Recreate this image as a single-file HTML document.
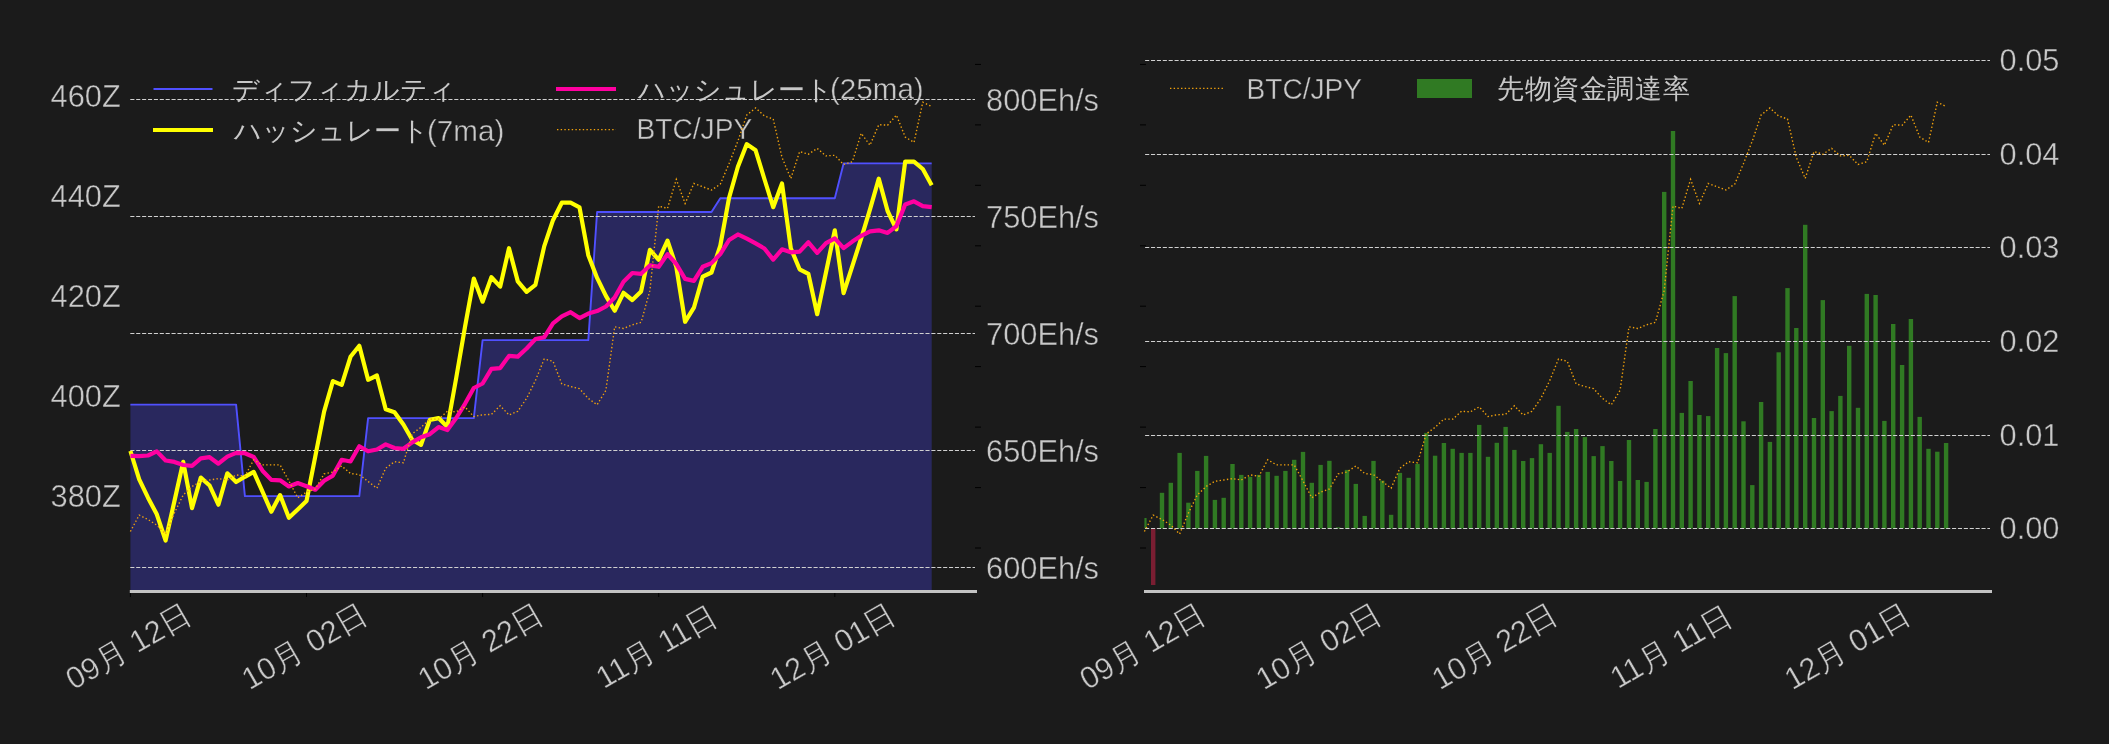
<!DOCTYPE html>
<html><head><meta charset="utf-8"><title>chart</title>
<style>
html,body{margin:0;padding:0;background:#1b1b1b;width:2109px;height:744px;overflow:hidden;}
svg{display:block;will-change:transform;}
text{font-family:"Liberation Sans", sans-serif;fill:#c8c8c8;stroke:#1b1b1b;stroke-width:0.4px;paint-order:normal;}
text[stroke=none]{stroke:none;}
</style></head><body>
<svg width="2109" height="744" viewBox="0 0 2109 744">
<rect width="2109" height="744" fill="#1b1b1b"/>

<polygon points="130.4,404.6 139.2,404.6 148.0,404.6 156.8,404.6 165.6,404.6 174.4,404.6 183.2,404.6 192.0,404.6 200.8,404.6 209.6,404.6 218.4,404.6 227.3,404.6 236.1,404.6 244.9,496.1 253.7,496.1 262.5,496.1 271.3,496.1 280.1,496.1 288.9,496.1 297.7,496.1 306.5,496.1 315.3,496.1 324.1,496.1 332.9,496.1 341.7,496.1 350.5,496.1 359.3,496.1 368.1,418.1 376.9,418.1 385.7,418.1 394.5,418.1 403.4,418.1 412.2,418.1 421.0,418.1 429.8,418.1 438.6,418.1 447.4,418.1 456.2,418.1 465.0,418.1 473.8,418.1 482.6,340.1 491.4,340.1 500.2,340.1 509.0,340.1 517.8,340.1 526.6,340.1 535.4,340.1 544.2,340.1 553.0,340.1 561.8,340.1 570.6,340.1 579.5,340.1 588.3,340.1 597.1,212.0 605.9,212.0 614.7,212.0 623.5,212.0 632.3,212.0 641.1,212.0 649.9,212.0 658.7,212.0 667.5,212.0 676.3,212.0 685.1,212.0 693.9,212.0 702.7,212.0 711.5,212.0 720.3,198.2 729.1,198.2 737.9,198.2 746.8,198.2 755.6,198.2 764.4,198.2 773.2,198.2 782.0,198.2 790.8,198.2 799.6,198.2 808.4,198.2 817.2,198.2 826.0,198.2 834.8,198.2 843.6,163.4 852.4,163.4 861.2,163.4 870.0,163.4 878.8,163.4 887.6,163.4 896.4,163.4 905.2,163.4 914.0,163.4 922.8,163.4 931.7,163.4 931.7,591 130.4,591" fill="#29285e"/>
<polyline points="130.4,404.6 139.2,404.6 148.0,404.6 156.8,404.6 165.6,404.6 174.4,404.6 183.2,404.6 192.0,404.6 200.8,404.6 209.6,404.6 218.4,404.6 227.3,404.6 236.1,404.6 244.9,496.1 253.7,496.1 262.5,496.1 271.3,496.1 280.1,496.1 288.9,496.1 297.7,496.1 306.5,496.1 315.3,496.1 324.1,496.1 332.9,496.1 341.7,496.1 350.5,496.1 359.3,496.1 368.1,418.1 376.9,418.1 385.7,418.1 394.5,418.1 403.4,418.1 412.2,418.1 421.0,418.1 429.8,418.1 438.6,418.1 447.4,418.1 456.2,418.1 465.0,418.1 473.8,418.1 482.6,340.1 491.4,340.1 500.2,340.1 509.0,340.1 517.8,340.1 526.6,340.1 535.4,340.1 544.2,340.1 553.0,340.1 561.8,340.1 570.6,340.1 579.5,340.1 588.3,340.1 597.1,212.0 605.9,212.0 614.7,212.0 623.5,212.0 632.3,212.0 641.1,212.0 649.9,212.0 658.7,212.0 667.5,212.0 676.3,212.0 685.1,212.0 693.9,212.0 702.7,212.0 711.5,212.0 720.3,198.2 729.1,198.2 737.9,198.2 746.8,198.2 755.6,198.2 764.4,198.2 773.2,198.2 782.0,198.2 790.8,198.2 799.6,198.2 808.4,198.2 817.2,198.2 826.0,198.2 834.8,198.2 843.6,163.4 852.4,163.4 861.2,163.4 870.0,163.4 878.8,163.4 887.6,163.4 896.4,163.4 905.2,163.4 914.0,163.4 922.8,163.4 931.7,163.4" fill="none" stroke="#5050ff" stroke-width="1.9" stroke-linejoin="round"/>
<line x1="153.5" y1="89" x2="212.5" y2="89" stroke="#5050ff" stroke-width="1.9"/>
<text x="232" y="98.8" font-size="26.9" stroke="none">ディフィカルティ</text>
<line x1="153" y1="130" x2="213" y2="130" stroke="#ffff00" stroke-width="4.2"/>
<text x="234" y="139.5" font-size="26.9" stroke="none">ハッシュレート</text>
<text transform="translate(427.0,141.3) scale(1,1.02)" font-size="29.6">(7ma)</text>
<line x1="556" y1="89" x2="616" y2="89" stroke="#ff00a0" stroke-width="4.2"/>
<text x="637.5" y="98.8" font-size="26.9" stroke="none">ハッシュレート</text>
<text transform="translate(830.0,99.3) scale(1,1.02)" font-size="29.6">(25ma)</text>
<line x1="557" y1="129.6" x2="616" y2="129.6" stroke="#f2a20c" stroke-width="1.39" stroke-dasharray="1.39 2.29"/>
<text transform="translate(636.6,139.3) scale(1,1.07)" font-size="28.1">BTC/JPY</text>
<line x1="130.3" y1="99.5" x2="975" y2="99.5" stroke="#d0d0d0" stroke-width="1.11" stroke-dasharray="4.11 1.78"/>
<line x1="130.3" y1="216.5" x2="975" y2="216.5" stroke="#d0d0d0" stroke-width="1.11" stroke-dasharray="4.11 1.78"/>
<line x1="130.3" y1="333.5" x2="975" y2="333.5" stroke="#d0d0d0" stroke-width="1.11" stroke-dasharray="4.11 1.78"/>
<line x1="130.3" y1="450.5" x2="975" y2="450.5" stroke="#d0d0d0" stroke-width="1.11" stroke-dasharray="4.11 1.78"/>
<line x1="130.3" y1="567.5" x2="975" y2="567.5" stroke="#d0d0d0" stroke-width="1.11" stroke-dasharray="4.11 1.78"/>
<polyline points="130.4,451.0 139.2,479.4 148.0,497.7 156.8,514.3 165.6,540.5 174.4,501.2 183.2,461.9 192.0,508.2 200.8,477.6 209.6,485.5 218.4,504.7 227.3,473.3 236.1,482.0 244.9,476.8 253.7,471.9 262.5,491.6 271.3,511.7 280.1,495.1 288.9,517.8 297.7,509.5 306.5,501.1 315.3,456.4 324.1,411.7 332.9,381.1 341.7,384.9 350.5,356.8 359.3,345.8 368.1,379.8 376.9,375.5 385.7,409.2 394.5,412.2 403.4,424.5 412.2,439.8 421.0,444.9 429.8,419.9 438.6,418.1 447.4,427.0 456.2,378.0 465.0,326.9 473.8,278.6 482.6,301.7 491.4,277.2 500.2,286.6 509.0,248.2 517.8,281.4 526.6,291.9 535.4,284.9 544.2,246.4 553.0,220.2 561.8,202.7 570.6,202.7 579.5,207.3 588.3,255.2 597.1,277.9 605.9,295.9 614.7,310.8 623.5,292.8 632.3,300.0 641.1,291.4 649.9,249.9 658.7,259.8 667.5,240.6 676.3,266.8 685.1,321.8 693.9,307.7 702.7,276.7 711.5,272.5 720.3,245.7 729.1,197.7 737.9,166.7 746.8,144.1 755.6,150.3 764.4,179.0 773.2,207.2 782.0,183.5 790.8,248.3 799.6,269.3 808.4,273.9 817.2,314.2 826.0,272.3 834.8,230.3 843.6,293.2 852.4,265.8 861.2,238.4 870.0,209.4 878.8,178.7 887.6,211.0 896.4,229.4 905.2,161.6 914.0,161.6 922.8,169.0 931.7,185.2" fill="none" stroke="#ffff00" stroke-width="4.2" stroke-linejoin="round" stroke-linecap="butt"/>
<polyline points="130.4,455.8 139.2,456.2 148.0,455.5 156.8,451.4 165.6,460.5 174.4,461.9 183.2,465.0 192.0,465.8 200.8,458.4 209.6,457.2 218.4,463.7 227.3,456.7 236.1,452.8 244.9,453.2 253.7,457.0 262.5,470.7 271.3,479.9 280.1,480.3 288.9,486.5 297.7,483.0 306.5,486.2 315.3,489.7 324.1,480.7 332.9,475.6 341.7,459.8 350.5,461.5 359.3,446.2 368.1,451.3 376.9,449.5 385.7,444.4 394.5,448.0 403.4,448.8 412.2,442.4 421.0,437.3 429.8,434.2 438.6,427.1 447.4,430.0 456.2,418.0 465.0,403.8 473.8,388.0 482.6,383.5 491.4,368.8 500.2,368.1 509.0,355.9 517.8,356.6 526.6,348.5 535.4,339.1 544.2,337.3 553.0,323.4 561.8,316.4 570.6,312.2 579.5,318.1 588.3,313.6 597.1,311.1 605.9,306.5 614.7,297.5 623.5,281.8 632.3,273.0 641.1,273.8 649.9,265.4 658.7,266.8 667.5,254.1 676.3,264.0 685.1,278.9 693.9,280.9 702.7,266.8 711.5,263.1 720.3,254.1 729.1,240.0 737.9,234.4 746.8,238.6 755.6,243.4 764.4,248.5 773.2,259.6 782.0,249.3 790.8,252.3 799.6,251.6 808.4,242.3 817.2,252.9 826.0,243.2 834.8,238.4 843.6,248.1 852.4,241.6 861.2,235.8 870.0,231.3 878.8,230.3 887.6,232.9 896.4,226.1 905.2,204.5 914.0,201.3 922.8,206.1 931.7,207.1" fill="none" stroke="#ff00a0" stroke-width="4.2" stroke-linejoin="round" stroke-linecap="butt"/>
<polyline points="130.4,531.5 139.2,515.1 148.0,519.5 156.8,525.1 165.6,534.0 174.4,512.9 183.2,495.0 192.0,486.5 200.8,481.3 209.6,480.0 218.4,478.6 227.3,480.0 236.1,474.9 244.9,476.2 253.7,459.8 262.5,464.9 271.3,464.9 280.1,464.9 288.9,480.9 297.7,497.8 306.5,492.2 315.3,489.0 324.1,473.9 332.9,472.0 341.7,466.0 350.5,473.5 359.3,474.6 368.1,481.5 376.9,488.2 385.7,468.2 394.5,461.7 403.4,462.8 412.2,433.8 421.0,427.3 429.8,419.1 438.6,419.1 447.4,411.2 456.2,411.8 465.0,406.9 473.8,416.6 482.6,414.8 491.4,414.4 500.2,405.8 509.0,415.0 517.8,411.3 526.6,398.4 535.4,380.6 544.2,359.0 553.0,361.3 561.8,383.9 570.6,386.5 579.5,388.7 588.3,398.4 597.1,404.8 605.9,390.3 614.7,326.8 623.5,328.5 632.3,324.8 641.1,322.4 649.9,290.6 658.7,206.1 667.5,208.4 676.3,179.4 685.1,203.5 693.9,183.5 702.7,186.8 711.5,190.0 720.3,184.2 729.1,163.5 737.9,141.0 746.8,115.0 755.6,108.0 764.4,116.0 773.2,119.0 782.0,157.4 790.8,178.5 799.6,151.6 808.4,154.2 817.2,148.4 826.0,155.9 834.8,155.3 843.6,164.5 852.4,161.7 861.2,133.3 870.0,145.2 878.8,124.7 887.6,125.2 896.4,115.1 905.2,137.0 914.0,142.4 922.8,102.2 931.7,106.5" fill="none" stroke="#f2a20c" stroke-width="1.39" stroke-dasharray="1.39 2.29"/>
<rect x="129.8" y="590" width="847.2" height="3" fill="#c3c3c3"/>
<rect x="129.9" y="593" width="1" height="4" fill="#000"/>
<rect x="306.0" y="593" width="1" height="4" fill="#000"/>
<rect x="482.1" y="593" width="1" height="4" fill="#000"/>
<rect x="658.2" y="593" width="1" height="4" fill="#000"/>
<rect x="834.3" y="593" width="1" height="4" fill="#000"/>
<rect x="975" y="63.9" width="6" height="1" fill="#000"/>
<rect x="975" y="124.4" width="6" height="1" fill="#000"/>
<rect x="975" y="184.8" width="6" height="1" fill="#000"/>
<rect x="975" y="245.3" width="6" height="1" fill="#000"/>
<rect x="975" y="305.7" width="6" height="1" fill="#000"/>
<rect x="975" y="366.1" width="6" height="1" fill="#000"/>
<rect x="975" y="426.6" width="6" height="1" fill="#000"/>
<rect x="975" y="487.1" width="6" height="1" fill="#000"/>
<rect x="975" y="547.5" width="6" height="1" fill="#000"/>
<text class="t" x="120.8" y="96.4" font-size="30.8" text-anchor="end" dominant-baseline="central">460Z</text>
<text class="t" x="120.8" y="196.4" font-size="30.8" text-anchor="end" dominant-baseline="central">440Z</text>
<text class="t" x="120.8" y="296.4" font-size="30.8" text-anchor="end" dominant-baseline="central">420Z</text>
<text class="t" x="120.8" y="396.4" font-size="30.8" text-anchor="end" dominant-baseline="central">400Z</text>
<text class="t" x="120.8" y="496.4" font-size="30.8" text-anchor="end" dominant-baseline="central">380Z</text>
<text class="t" x="986" y="100.8" font-size="30.8" dominant-baseline="central">800Eh/s</text>
<text class="t" x="986" y="217.8" font-size="30.8" dominant-baseline="central">750Eh/s</text>
<text class="t" x="986" y="334.8" font-size="30.8" dominant-baseline="central">700Eh/s</text>
<text class="t" x="986" y="451.8" font-size="30.8" dominant-baseline="central">650Eh/s</text>
<text class="t" x="986" y="568.8" font-size="30.8" dominant-baseline="central">600Eh/s</text>
<text class="t" x="0" y="0" font-size="30.8" text-anchor="middle" dominant-baseline="central" transform="translate(128.4,646.6) rotate(-30)">09月 12日</text>
<text class="t" x="0" y="0" font-size="30.8" text-anchor="middle" dominant-baseline="central" transform="translate(304.5,646.6) rotate(-30)">10月 02日</text>
<text class="t" x="0" y="0" font-size="30.8" text-anchor="middle" dominant-baseline="central" transform="translate(480.6,646.6) rotate(-30)">10月 22日</text>
<text class="t" x="0" y="0" font-size="30.8" text-anchor="middle" dominant-baseline="central" transform="translate(656.7,646.6) rotate(-30)">11月 11日</text>
<text class="t" x="0" y="0" font-size="30.8" text-anchor="middle" dominant-baseline="central" transform="translate(832.8,646.6) rotate(-30)">12月 01日</text>
<defs><clipPath id="rc"><rect x="1144.4" y="0" width="848" height="744"/></clipPath></defs>
<g clip-path="url(#rc)">
<rect x="1142.2" y="518.0" width="4.4" height="10.5" fill="#307a23"/>
<rect x="1151.0" y="528.5" width="4.4" height="56.5" fill="#7a1e32"/>
<rect x="1159.8" y="492.8" width="4.4" height="35.7" fill="#307a23"/>
<rect x="1168.6" y="482.8" width="4.4" height="45.7" fill="#307a23"/>
<rect x="1177.4" y="452.9" width="4.4" height="75.6" fill="#307a23"/>
<rect x="1186.2" y="502.7" width="4.4" height="25.8" fill="#307a23"/>
<rect x="1195.1" y="470.9" width="4.4" height="57.6" fill="#307a23"/>
<rect x="1203.9" y="455.9" width="4.4" height="72.6" fill="#307a23"/>
<rect x="1212.7" y="499.9" width="4.4" height="28.6" fill="#307a23"/>
<rect x="1221.5" y="497.8" width="4.4" height="30.7" fill="#307a23"/>
<rect x="1230.3" y="464.0" width="4.4" height="64.5" fill="#307a23"/>
<rect x="1239.1" y="474.9" width="4.4" height="53.6" fill="#307a23"/>
<rect x="1247.9" y="476.8" width="4.4" height="51.7" fill="#307a23"/>
<rect x="1256.7" y="474.9" width="4.4" height="53.6" fill="#307a23"/>
<rect x="1265.5" y="471.9" width="4.4" height="56.6" fill="#307a23"/>
<rect x="1274.4" y="475.8" width="4.4" height="52.7" fill="#307a23"/>
<rect x="1283.2" y="470.9" width="4.4" height="57.6" fill="#307a23"/>
<rect x="1292.0" y="459.8" width="4.4" height="68.7" fill="#307a23"/>
<rect x="1300.8" y="451.9" width="4.4" height="76.6" fill="#307a23"/>
<rect x="1309.6" y="482.8" width="4.4" height="45.7" fill="#307a23"/>
<rect x="1318.4" y="464.9" width="4.4" height="63.6" fill="#307a23"/>
<rect x="1327.2" y="460.8" width="4.4" height="67.7" fill="#307a23"/>
<rect x="1336.0" y="527.3" width="4.4" height="1.2" fill="#307a23"/>
<rect x="1344.8" y="469.9" width="4.4" height="58.6" fill="#307a23"/>
<rect x="1353.6" y="483.9" width="4.4" height="44.6" fill="#307a23"/>
<rect x="1362.5" y="515.9" width="4.4" height="12.6" fill="#307a23"/>
<rect x="1371.3" y="460.9" width="4.4" height="67.6" fill="#307a23"/>
<rect x="1380.1" y="480.6" width="4.4" height="47.9" fill="#307a23"/>
<rect x="1388.9" y="514.8" width="4.4" height="13.7" fill="#307a23"/>
<rect x="1397.7" y="472.9" width="4.4" height="55.6" fill="#307a23"/>
<rect x="1406.5" y="477.8" width="4.4" height="50.7" fill="#307a23"/>
<rect x="1415.3" y="463.9" width="4.4" height="64.6" fill="#307a23"/>
<rect x="1424.1" y="432.9" width="4.4" height="95.6" fill="#307a23"/>
<rect x="1432.9" y="455.7" width="4.4" height="72.8" fill="#307a23"/>
<rect x="1441.7" y="443.0" width="4.4" height="85.5" fill="#307a23"/>
<rect x="1450.5" y="448.8" width="4.4" height="79.7" fill="#307a23"/>
<rect x="1459.4" y="452.9" width="4.4" height="75.6" fill="#307a23"/>
<rect x="1468.2" y="452.9" width="4.4" height="75.6" fill="#307a23"/>
<rect x="1477.0" y="424.9" width="4.4" height="103.6" fill="#307a23"/>
<rect x="1485.8" y="456.8" width="4.4" height="71.7" fill="#307a23"/>
<rect x="1494.6" y="442.8" width="4.4" height="85.7" fill="#307a23"/>
<rect x="1503.4" y="426.9" width="4.4" height="101.6" fill="#307a23"/>
<rect x="1512.2" y="449.9" width="4.4" height="78.6" fill="#307a23"/>
<rect x="1521.0" y="461.0" width="4.4" height="67.5" fill="#307a23"/>
<rect x="1529.8" y="458.1" width="4.4" height="70.4" fill="#307a23"/>
<rect x="1538.7" y="444.2" width="4.4" height="84.3" fill="#307a23"/>
<rect x="1547.5" y="452.9" width="4.4" height="75.6" fill="#307a23"/>
<rect x="1556.3" y="405.8" width="4.4" height="122.7" fill="#307a23"/>
<rect x="1565.1" y="431.9" width="4.4" height="96.6" fill="#307a23"/>
<rect x="1573.9" y="429.0" width="4.4" height="99.5" fill="#307a23"/>
<rect x="1582.7" y="437.1" width="4.4" height="91.4" fill="#307a23"/>
<rect x="1591.5" y="456.1" width="4.4" height="72.4" fill="#307a23"/>
<rect x="1600.3" y="446.1" width="4.4" height="82.4" fill="#307a23"/>
<rect x="1609.1" y="461.0" width="4.4" height="67.5" fill="#307a23"/>
<rect x="1617.9" y="481.0" width="4.4" height="47.5" fill="#307a23"/>
<rect x="1626.8" y="440.0" width="4.4" height="88.5" fill="#307a23"/>
<rect x="1635.6" y="480.0" width="4.4" height="48.5" fill="#307a23"/>
<rect x="1644.4" y="481.9" width="4.4" height="46.6" fill="#307a23"/>
<rect x="1653.2" y="429.0" width="4.4" height="99.5" fill="#307a23"/>
<rect x="1662.0" y="191.9" width="4.4" height="336.6" fill="#307a23"/>
<rect x="1670.8" y="131.0" width="4.4" height="397.5" fill="#307a23"/>
<rect x="1679.6" y="412.9" width="4.4" height="115.6" fill="#307a23"/>
<rect x="1688.4" y="381.0" width="4.4" height="147.5" fill="#307a23"/>
<rect x="1697.2" y="415.0" width="4.4" height="113.5" fill="#307a23"/>
<rect x="1706.0" y="416.1" width="4.4" height="112.4" fill="#307a23"/>
<rect x="1714.9" y="348.0" width="4.4" height="180.5" fill="#307a23"/>
<rect x="1723.7" y="353.1" width="4.4" height="175.4" fill="#307a23"/>
<rect x="1732.5" y="296.1" width="4.4" height="232.4" fill="#307a23"/>
<rect x="1741.3" y="421.3" width="4.4" height="107.2" fill="#307a23"/>
<rect x="1750.1" y="485.1" width="4.4" height="43.4" fill="#307a23"/>
<rect x="1758.9" y="402.0" width="4.4" height="126.5" fill="#307a23"/>
<rect x="1767.7" y="441.9" width="4.4" height="86.6" fill="#307a23"/>
<rect x="1776.5" y="352.3" width="4.4" height="176.2" fill="#307a23"/>
<rect x="1785.3" y="288.1" width="4.4" height="240.4" fill="#307a23"/>
<rect x="1794.1" y="328.0" width="4.4" height="200.5" fill="#307a23"/>
<rect x="1803.0" y="224.8" width="4.4" height="303.7" fill="#307a23"/>
<rect x="1811.8" y="418.0" width="4.4" height="110.5" fill="#307a23"/>
<rect x="1820.6" y="300.1" width="4.4" height="228.4" fill="#307a23"/>
<rect x="1829.4" y="411.1" width="4.4" height="117.4" fill="#307a23"/>
<rect x="1838.2" y="395.9" width="4.4" height="132.6" fill="#307a23"/>
<rect x="1847.0" y="345.8" width="4.4" height="182.7" fill="#307a23"/>
<rect x="1855.8" y="407.8" width="4.4" height="120.7" fill="#307a23"/>
<rect x="1864.6" y="293.9" width="4.4" height="234.6" fill="#307a23"/>
<rect x="1873.4" y="295.0" width="4.4" height="233.5" fill="#307a23"/>
<rect x="1882.2" y="420.9" width="4.4" height="107.6" fill="#307a23"/>
<rect x="1891.0" y="324.0" width="4.4" height="204.5" fill="#307a23"/>
<rect x="1899.9" y="365.0" width="4.4" height="163.5" fill="#307a23"/>
<rect x="1908.7" y="319.0" width="4.4" height="209.5" fill="#307a23"/>
<rect x="1917.5" y="416.9" width="4.4" height="111.6" fill="#307a23"/>
<rect x="1926.3" y="448.8" width="4.4" height="79.7" fill="#307a23"/>
<rect x="1935.1" y="451.7" width="4.4" height="76.8" fill="#307a23"/>
<rect x="1943.9" y="443.0" width="4.4" height="85.5" fill="#307a23"/>
</g>
<line x1="1145.1" y1="528.5" x2="1990" y2="528.5" stroke="#d0d0d0" stroke-width="1.11" stroke-dasharray="4.11 1.78"/>
<line x1="1145.1" y1="435.5" x2="1990" y2="435.5" stroke="#d0d0d0" stroke-width="1.11" stroke-dasharray="4.11 1.78"/>
<line x1="1145.1" y1="341.5" x2="1990" y2="341.5" stroke="#d0d0d0" stroke-width="1.11" stroke-dasharray="4.11 1.78"/>
<line x1="1145.1" y1="247.5" x2="1990" y2="247.5" stroke="#d0d0d0" stroke-width="1.11" stroke-dasharray="4.11 1.78"/>
<line x1="1145.1" y1="154.5" x2="1990" y2="154.5" stroke="#d0d0d0" stroke-width="1.11" stroke-dasharray="4.11 1.78"/>
<line x1="1145.1" y1="60.5" x2="1990" y2="60.5" stroke="#d0d0d0" stroke-width="1.11" stroke-dasharray="4.11 1.78"/>
<polyline points="1144.4,531.5 1153.2,515.1 1162.0,519.5 1170.8,525.1 1179.6,534.0 1188.5,512.9 1197.3,495.0 1206.1,486.5 1214.9,481.3 1223.7,480.0 1232.5,478.6 1241.3,480.0 1250.1,474.9 1258.9,476.2 1267.7,459.8 1276.6,464.9 1285.4,464.9 1294.2,464.9 1303.0,480.9 1311.8,497.8 1320.6,492.2 1329.4,489.0 1338.2,473.9 1347.0,472.0 1355.8,466.0 1364.7,473.5 1373.5,474.6 1382.3,481.5 1391.1,488.2 1399.9,468.2 1408.7,461.7 1417.5,462.8 1426.3,433.8 1435.1,427.3 1443.9,419.1 1452.8,419.1 1461.6,411.2 1470.4,411.8 1479.2,406.9 1488.0,416.6 1496.8,414.8 1505.6,414.4 1514.4,405.8 1523.2,415.0 1532.0,411.3 1540.9,398.4 1549.7,380.6 1558.5,359.0 1567.3,361.3 1576.1,383.9 1584.9,386.5 1593.7,388.7 1602.5,398.4 1611.3,404.8 1620.1,390.3 1629.0,326.8 1637.8,328.5 1646.6,324.8 1655.4,322.4 1664.2,290.6 1673.0,206.1 1681.8,208.4 1690.6,179.4 1699.4,203.5 1708.2,183.5 1717.1,186.8 1725.9,190.0 1734.7,184.2 1743.5,163.5 1752.3,141.0 1761.1,115.0 1769.9,108.0 1778.7,116.0 1787.5,119.0 1796.3,157.4 1805.2,178.5 1814.0,151.6 1822.8,154.2 1831.6,148.4 1840.4,155.9 1849.2,155.3 1858.0,164.5 1866.8,161.7 1875.6,133.3 1884.4,145.2 1893.2,124.7 1902.1,125.2 1910.9,115.1 1919.7,137.0 1928.5,142.4 1937.3,102.2 1946.1,106.5" fill="none" stroke="#f2a20c" stroke-width="1.39" stroke-dasharray="1.39 2.29"/>
<rect x="1144" y="590" width="848" height="3" fill="#c3c3c3"/>
<rect x="1140" y="63.9" width="6" height="1" fill="#000"/>
<rect x="1140" y="124.4" width="6" height="1" fill="#000"/>
<rect x="1140" y="184.8" width="6" height="1" fill="#000"/>
<rect x="1140" y="245.3" width="6" height="1" fill="#000"/>
<rect x="1140" y="305.7" width="6" height="1" fill="#000"/>
<rect x="1140" y="366.1" width="6" height="1" fill="#000"/>
<rect x="1140" y="426.6" width="6" height="1" fill="#000"/>
<rect x="1140" y="487.1" width="6" height="1" fill="#000"/>
<rect x="1140" y="547.5" width="6" height="1" fill="#000"/>
<text x="1999.5" y="528.9" font-size="30.8" dominant-baseline="central">0.00</text>
<text x="1999.5" y="435.9" font-size="30.8" dominant-baseline="central">0.01</text>
<text x="1999.5" y="341.9" font-size="30.8" dominant-baseline="central">0.02</text>
<text x="1999.5" y="247.9" font-size="30.8" dominant-baseline="central">0.03</text>
<text x="1999.5" y="154.9" font-size="30.8" dominant-baseline="central">0.04</text>
<text x="1999.5" y="60.9" font-size="30.8" dominant-baseline="central">0.05</text>
<text x="0" y="0" font-size="30.8" text-anchor="middle" dominant-baseline="central" transform="translate(1142.4,646.6) rotate(-30)">09月 12日</text>
<text x="0" y="0" font-size="30.8" text-anchor="middle" dominant-baseline="central" transform="translate(1318.6,646.6) rotate(-30)">10月 02日</text>
<text x="0" y="0" font-size="30.8" text-anchor="middle" dominant-baseline="central" transform="translate(1494.8,646.6) rotate(-30)">10月 22日</text>
<text x="0" y="0" font-size="30.8" text-anchor="middle" dominant-baseline="central" transform="translate(1671.0,646.6) rotate(-30)">11月 11日</text>
<text x="0" y="0" font-size="30.8" text-anchor="middle" dominant-baseline="central" transform="translate(1847.2,646.6) rotate(-30)">12月 01日</text>
<line x1="1170" y1="88.4" x2="1224" y2="88.4" stroke="#f2a20c" stroke-width="1.39" stroke-dasharray="1.39 2.29"/>
<text transform="translate(1246.5,98.5) scale(1,1.07)" font-size="28.1">BTC/JPY</text>
<rect x="1417" y="79" width="55" height="19" fill="#307a23"/>
<text x="1497" y="98" font-size="27.2" letter-spacing="0.6" stroke="none">先物資金調達率</text>
</svg></body></html>
